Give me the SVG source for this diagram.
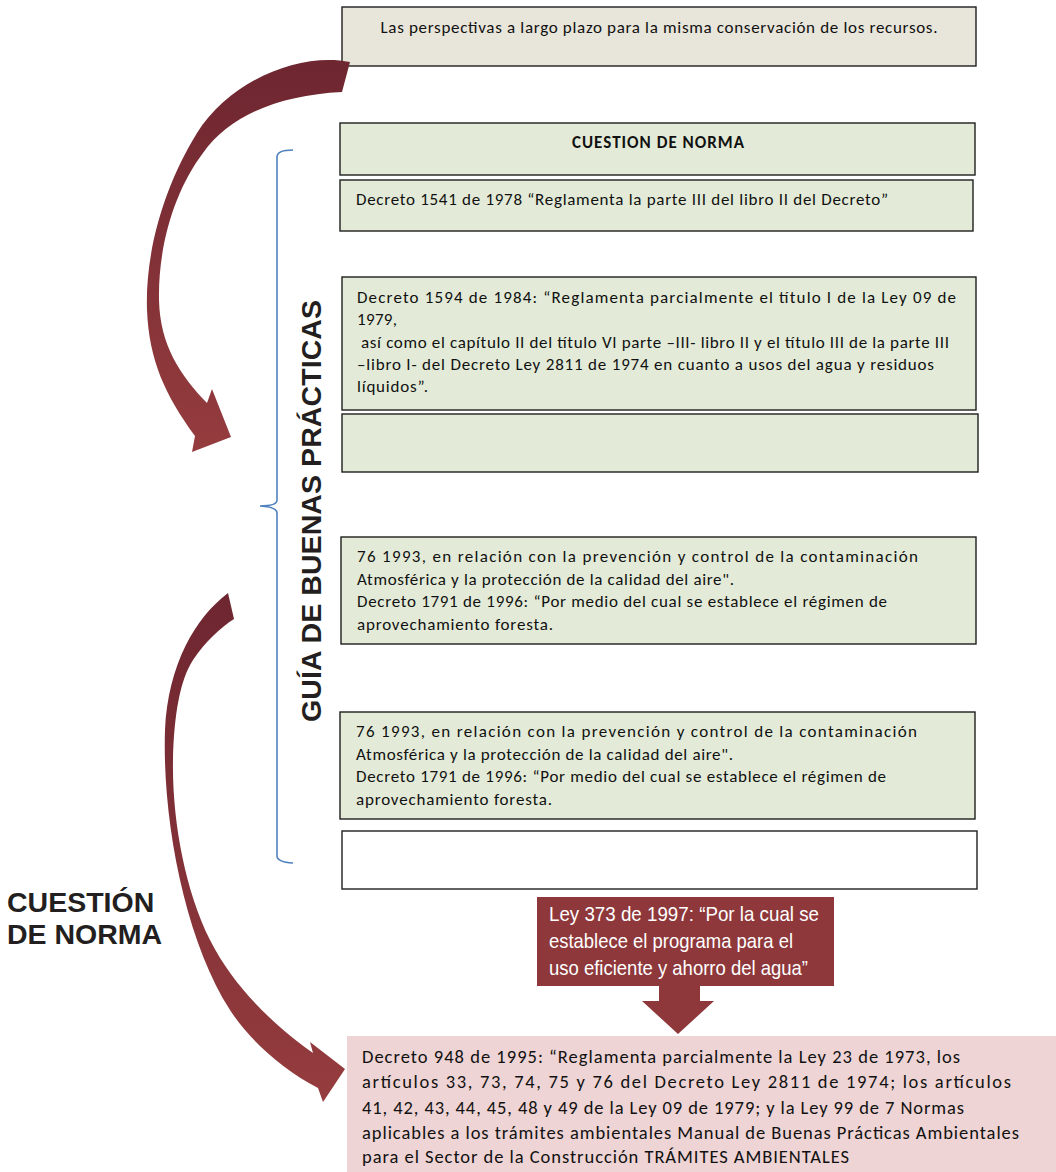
<svg xmlns="http://www.w3.org/2000/svg" width="1056" height="1172" viewBox="0 0 1056 1172">
<defs>
<linearGradient id="arr" x1="0" y1="0" x2="0" y2="1">
<stop offset="0" stop-color="#6e2630"/>
<stop offset="1" stop-color="#953c3e"/>
</linearGradient>
<style>
.box{stroke:#1f1f1f;stroke-width:1.4}
.green{fill:#e3ebd8}
.t{font-family:Carlito,Lato,"Noto Sans",sans-serif;font-size:17px;fill:#111111}
.tb{font-weight:bold}
.p{font-family:Carlito,Lato,"Noto Sans",sans-serif;font-size:18.5px;fill:#111111}
.w{font-family:"Liberation Sans Narrow","Liberation Sans",Arial,sans-serif;font-size:21px;fill:#ffffff}
.big{font-family:"Liberation Sans",Arial,sans-serif;font-size:28.5px;font-weight:bold;fill:#231f20}
.red{fill:#8e383b}
</style>
</defs>
<rect width="1056" height="1172" fill="#ffffff"/>

<g id="node-perspectivas">
<rect class="box" x="342" y="7" width="634" height="59" fill="#e8e5da"/>
<text class="t" x="659" y="33" text-anchor="middle" textLength="557">Las perspectivas a largo plazo para la misma conservación de los recursos.</text>
</g>

<g id="node-cuestion-header">
<rect class="box green" x="340" y="123" width="635" height="52"/>
<text class="t tb" x="658" y="148" text-anchor="middle" textLength="172">CUESTION DE NORMA</text>
</g>

<g id="node-decreto-1541">
<rect class="box green" x="340" y="180" width="633" height="51"/>
<text class="t" x="356" y="205" textLength="532">Decreto 1541 de 1978 “Reglamenta la parte III del libro II del Decreto”</text>
</g>

<g id="node-decreto-1594">
<rect class="box green" x="342" y="277" width="634" height="133"/>
<text class="t" x="357" y="303" textLength="599">Decreto 1594 de 1984: “Reglamenta parcialmente el título I de la Ley  09 de</text>
<text class="t" x="357" y="325" textLength="40">1979,</text>
<text class="t" x="361" y="348" textLength="588">así como el capítulo II del título VI parte –III- libro II y el  título III de la parte III</text>
<text class="t" x="357" y="370" textLength="577">–libro I- del Decreto Ley 2811 de 1974  en cuanto  a usos del agua y residuos</text>
<text class="t" x="357" y="392" textLength="71">líquidos”.</text>
</g>

<g id="node-empty-green">
<rect class="box green" x="342" y="414" width="636" height="58"/>
</g>

<g id="node-decreto-1791-a">
<rect class="box green" x="341" y="537" width="635" height="107"/>
<text class="t" x="357" y="562" textLength="561">76 1993,  en  relación  con  la  prevención  y  control  de  la  contaminación</text>
<text class="t" x="357" y="585" textLength="377">Atmosférica y la protección de la calidad del aire".</text>
<text class="t" x="357" y="607" textLength="530">Decreto 1791 de 1996: “Por medio del cual se establece el régimen de</text>
<text class="t" x="357" y="630" textLength="196">aprovechamiento foresta.</text>
</g>

<g id="node-decreto-1791-b">
<rect class="box green" x="340" y="712" width="635" height="107"/>
<text class="t" x="356" y="737" textLength="561">76 1993,  en  relación  con  la  prevención  y  control  de  la  contaminación</text>
<text class="t" x="356" y="760" textLength="377">Atmosférica y la protección de la calidad del aire".</text>
<text class="t" x="356" y="782" textLength="530">Decreto 1791 de 1996: “Por medio del cual se establece el régimen de</text>
<text class="t" x="356" y="805" textLength="196">aprovechamiento foresta.</text>
</g>

<g id="node-empty-white">
<rect class="box" x="342" y="831" width="635" height="58" fill="#ffffff"/>
</g>

<g id="node-ley-373">
<rect class="red" x="537" y="897" width="297" height="89"/>
<text class="w" x="549" y="921" textLength="270" lengthAdjust="spacingAndGlyphs">Ley 373 de 1997:  “Por la cual se</text>
<text class="w" x="549" y="948" textLength="244" lengthAdjust="spacingAndGlyphs">establece el programa para el</text>
<text class="w" x="549" y="975" textLength="259" lengthAdjust="spacingAndGlyphs">uso eficiente y ahorro del agua”</text>
</g>

<g id="node-decreto-948">
<rect x="347" y="1036" width="709" height="136" fill="#eed4d4"/>
<text class="p" x="362" y="1063" textLength="598">Decreto 948 de 1995: “Reglamenta parcialmente la Ley 23 de 1973,  los</text>
<text class="p" x="362" y="1088" textLength="649">artículos  33,  73,  74,  75  y  76 del  Decreto  Ley  2811 de  1974;  los  artículos</text>
<text class="p" x="362" y="1114" textLength="602">41, 42, 43, 44, 45, 48 y 49 de la Ley 09 de 1979; y la Ley 99 de  7 Normas</text>
<text class="p" x="362" y="1139" textLength="657">aplicables a los trámites ambientales Manual de Buenas Prácticas Ambientales</text>
<text class="p" x="362" y="1163" textLength="487">para el Sector de la Construcción TRÁMITES AMBIENTALES</text>
</g>

<g id="node-guia-label">
<path d="M293,150 Q277,150 277,157 L277,500 Q277,506 260,506 Q277,507 277,513 L277,856 Q277,862 293,863" fill="none" stroke="#4f81bd" stroke-width="1.6"/>
<text class="big" transform="translate(321,511) rotate(-90)" text-anchor="middle" textLength="422">GUÍA DE BUENAS PRÁCTICAS</text>
</g>

<g id="node-cuestion-label">
<text class="big" x="7" y="912">CUESTIÓN</text>
<text class="big" x="7" y="944">DE NORMA</text>
</g>

<g id="connectors">
<path fill="url(#arr)" d="M350,62 C300,52 230,80 197,133 C165,185 145,250 147,310 C149,360 165,395 195,436 L192,452 L231,437 L212,389 L207,403 C180,375 160,345 159,300 C158,245 175,190 203,153 C230,115 280,95 342,92 Z"/>
<path fill="url(#arr)" d="M228,593 C195,618 168,665 165,730 C162,820 185,940 230,1010 C248,1038 280,1068 318,1088 L323,1102 L345,1069 L310,1042 L313,1053 C280,1030 235,990 210,940 C185,890 172,820 173,760 C174,715 180,680 193,660 C205,642 220,628 234,619 Z"/>
<path class="red" d="M659,986 L700,986 L700,1001 L714,1001 L678,1034 L642,1001 L659,1001 Z"/>
</g>
</svg>
